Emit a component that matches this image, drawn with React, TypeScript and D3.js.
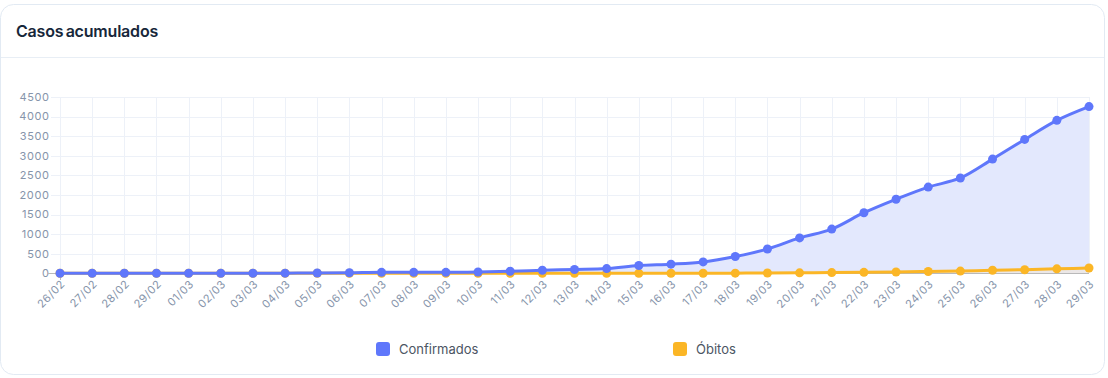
import React from "react";
import * as d3 from "d3";

const dates = [
  "26/02", "27/02", "28/02", "29/02",
  "01/03", "02/03", "03/03", "04/03", "05/03", "06/03", "07/03", "08/03", "09/03", "10/03",
  "11/03", "12/03", "13/03", "14/03", "15/03", "16/03", "17/03", "18/03", "19/03", "20/03",
  "21/03", "22/03", "23/03", "24/03", "25/03", "26/03", "27/03", "28/03", "29/03",
];

const confirmados = [
  1, 1, 1, 2,
  2, 2, 2, 3, 8, 13, 25, 25, 25, 34,
  52, 77, 98, 121, 200, 234, 291, 428, 621, 904,
  1128, 1546, 1891, 2201, 2433, 2915, 3417, 3904, 4256,
];

const obitos = [
  0, 0, 0, 0,
  0, 0, 0, 0, 0, 0, 0, 0, 0, 0,
  0, 0, 0, 0, 0, 0, 1, 4, 7, 11,
  18, 25, 34, 46, 57, 77, 92, 114, 136,
];

const yTicks = [0, 500, 1000, 1500, 2000, 2500, 3000, 3500, 4000, 4500];

const seriesNames = ["Confirmados", "Óbitos"];
const BLUE = "#5f77fb";
const ORANGE = "#fbb626";

export default function App() {
  const W = 1108;
  const H = 378;
  const x = d3.scalePoint<string>().domain(dates).range([60, 1089]);
  const y = d3.scaleLinear().domain([0, 4500]).range([273.3, 97]);

  const lineGen = d3
    .line<number>()
    .x((_, i) => x(dates[i]) as number)
    .y((d) => y(d))
    .curve(d3.curveMonotoneX);
  const areaGen = d3
    .area<number>()
    .x((_, i) => x(dates[i]) as number)
    .y0(y(0))
    .y1((d) => y(d))
    .curve(d3.curveMonotoneX);

  const font = "Inter, 'Noto Sans', sans-serif";
  const x0 = x(dates[0]) as number;
  const x1 = x(dates[dates.length - 1]) as number;

  return (
    <svg
      width={W}
      height={H}
      style={{ position: "fixed", left: 0, top: 0, display: "block" }}
      fontFamily={font}
    >
      <rect x={0} y={0} width={W} height={H} fill="#ffffff" />
      {/* card */}
      <rect
        x={0.5}
        y={4.5}
        width={1104}
        height={370}
        rx={13}
        fill="#ffffff"
        stroke="#e2eaf3"
        strokeWidth={1}
      />
      <line x1={1} x2={1104} y1={57.5} y2={57.5} stroke="#e8eef5" strokeWidth={1} />
      <text
        x={16}
        y={36.5}
        fontSize={16}
        fontWeight={600}
        fill="#17273a"
        letterSpacing={-0.2}
        wordSpacing={-1.5}
      >
        Casos acumulados
      </text>

      {/* grid */}
      {yTicks.map((t) => (
        <g key={"y" + t}>
          <line
            x1={51}
            x2={x1}
            y1={Math.round(y(t)) + 0.5}
            y2={Math.round(y(t)) + 0.5}
            stroke="#edf1f8"
            strokeWidth={1}
          />
          <text
            x={49.5}
            y={y(t)}
            dy="0.35em"
            textAnchor="end"
            fontSize={11}
            letterSpacing={0.6}
            fill="#8694aa"
          >
            {t}
          </text>
        </g>
      ))}
      {dates.map((d) => (
        <line
          key={"v" + d}
          x1={Math.round(x(d) as number) + 0.5}
          x2={Math.round(x(d) as number) + 0.5}
          y1={97}
          y2={273}
          stroke="#edf1f8"
          strokeWidth={1}
        />
      ))}

      {/* areas */}
      <path d={areaGen(confirmados) || ""} fill="#e3e8fd" />
      <path d={areaGen(obitos) || ""} fill="#f3e6d2" opacity={0.5} />

      {/* axes */}
      <line x1={48} x2={x1} y1={273.5} y2={273.5} stroke="#b9b9b9" strokeWidth={1} />
      <line x1={x0 + 0.5} x2={x0 + 0.5} y1={273} y2={280} stroke="#b9b9b9" strokeWidth={1} />

      {/* lines */}
      <path d={lineGen(obitos) || ""} fill="none" stroke={ORANGE} strokeWidth={3} />
      {obitos.map((v, i) => (
        <circle key={"o" + i} cx={x(dates[i]) as number} cy={y(v)} r={4.5} fill={ORANGE} />
      ))}
      <path d={lineGen(confirmados) || ""} fill="none" stroke={BLUE} strokeWidth={3} />
      {confirmados.map((v, i) => (
        <circle key={"c" + i} cx={x(dates[i]) as number} cy={y(v)} r={4.5} fill={BLUE} />
      ))}

      {/* x labels */}
      {dates.map((d) => {
        const px = (x(d) as number) + 3;
        const py = 282;
        return (
          <text
            key={"xl" + d}
            x={px}
            y={py}
            transform={`rotate(-45 ${px} ${py})`}
            textAnchor="end"
            fontSize={11}
            letterSpacing={0.5}
            fill="#8694aa"
            dy="0.35em"
          >
            {d}
          </text>
        );
      })}

      {/* legend */}
      {seriesNames.map((name, i) => {
        const lx = i === 0 ? 376 : 673;
        return (
          <g key={name}>
            <rect x={lx} y={342} width={14} height={14} rx={3} fill={i === 0 ? BLUE : ORANGE} />
            <text x={lx + 23} y={349} dy="0.35em" fontSize={13} fill="#4b5563">
              {name}
            </text>
          </g>
        );
      })}
    </svg>
  );
}
